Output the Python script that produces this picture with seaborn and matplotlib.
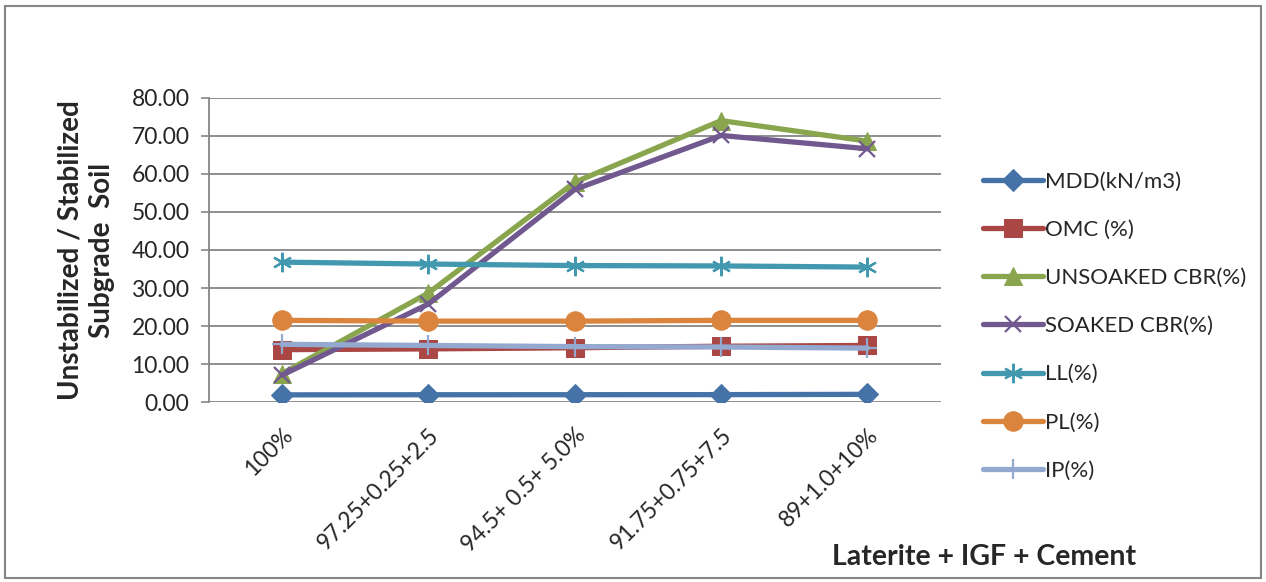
import matplotlib
matplotlib.use("Agg")
import matplotlib.pyplot as plt
import seaborn as sns
import pandas as pd
from matplotlib.patches import Rectangle

# Mix proportions (Laterite + IGF + Cement)
mixes = ["100%", "97.25+0.25+2.5", "94.5+ 0.5+ 5.0%", "91.75+0.75+7.5", "89+1.0+10%"]

mdd = [1.92, 1.95, 1.96, 1.98, 2.05]
omc = [13.8, 14.0, 14.3, 14.7, 14.9]
unsoaked_cbr = [7.5, 28.7, 57.8, 74.0, 68.6]
soaked_cbr = [7.1, 25.8, 55.9, 70.1, 66.6]
ll = [36.8, 36.3, 35.9, 35.8, 35.5]
pl = [21.5, 21.3, 21.3, 21.5, 21.5]
ip = [15.2, 14.9, 14.6, 14.5, 14.2]

series_names = ["MDD(kN/m3)", "OMC (%)", "UNSOAKED CBR(%)", "SOAKED CBR(%)",
                "LL(%)", "PL(%)", "IP(%)"]
series_values = [mdd, omc, unsoaked_cbr, soaked_cbr, ll, pl, ip]
colors = ["#4572A7", "#AA4643", "#89A54E", "#71588F", "#4198AF", "#DB843D", "#93A9CF"]
markers = ["D", "s", "^", "x", "*", "o", "+"]
msizes = [11, 13, 13, 12, 14, 14, 15]

sns.set_theme(style="white")
plt.rcParams["font.family"] = ["Lato", "DejaVu Sans"]

fig = plt.figure(figsize=(12.66, 5.82), dpi=100)
ax = fig.add_axes([0.165, 0.309, 0.578, 0.523])

x = list(range(len(mixes)))
for name, vals, c, m, ms in zip(series_names, series_values, colors, markers, msizes):
    kw = dict(marker=m, markersize=ms, color=c, linewidth=3.8,
              markeredgecolor=c, label=name)
    if m in ("x", "+", "*"):
        kw["markeredgewidth"] = 1.6
        if m == "*":
            kw["marker"] = (6, 2, 0)
    sns.lineplot(x=x, y=vals, ax=ax, **kw)

ax.set_xlim(-0.5, len(mixes) - 0.5)
ax.set_ylim(0, 80)
ax.set_yticks(range(0, 81, 10))
ax.set_yticklabels([f"{v:.2f}" for v in range(0, 81, 10)], fontsize=16.5)
ax.set_xticks(x)
ax.set_xticklabels(mixes, rotation=45, ha="right", rotation_mode="anchor", fontsize=16.5)
ax.tick_params(axis="x", length=0, pad=16)
ax.tick_params(axis="y", length=6, width=1.2, color="#868686", direction="out", pad=8, left=True)
ax.grid(axis="y", color="#868686", linewidth=1.3)
ax.set_axisbelow(True)
for s in ["top", "right", "bottom"]:
    ax.spines[s].set_visible(False)
ax.spines["left"].set_color("#868686")
ax.spines["left"].set_linewidth(1.3)

ax.set_xlabel("")
ax.set_ylabel("Unstabilized / Stabilized\nSubgrade  Soil", fontsize=20, fontweight="bold",
              labelpad=12, linespacing=1.25)

leg = ax.legend(loc="center left", bbox_to_anchor=(1.03, 0.25), frameon=False,
                fontsize=16, handlelength=2.7, labelspacing=1.27, handletextpad=0.1)

fig.text(0.777, 0.043, "Laterite + IGF + Cement", fontsize=20.5, fontweight="bold",
         ha="center", va="center")

fig.patches.append(Rectangle((0.004, 0.007), 0.992, 0.982, transform=fig.transFigure,
                             fill=False, edgecolor="#868686", linewidth=1.5))

fig.savefig("out.png", dpi=100, facecolor="white")
